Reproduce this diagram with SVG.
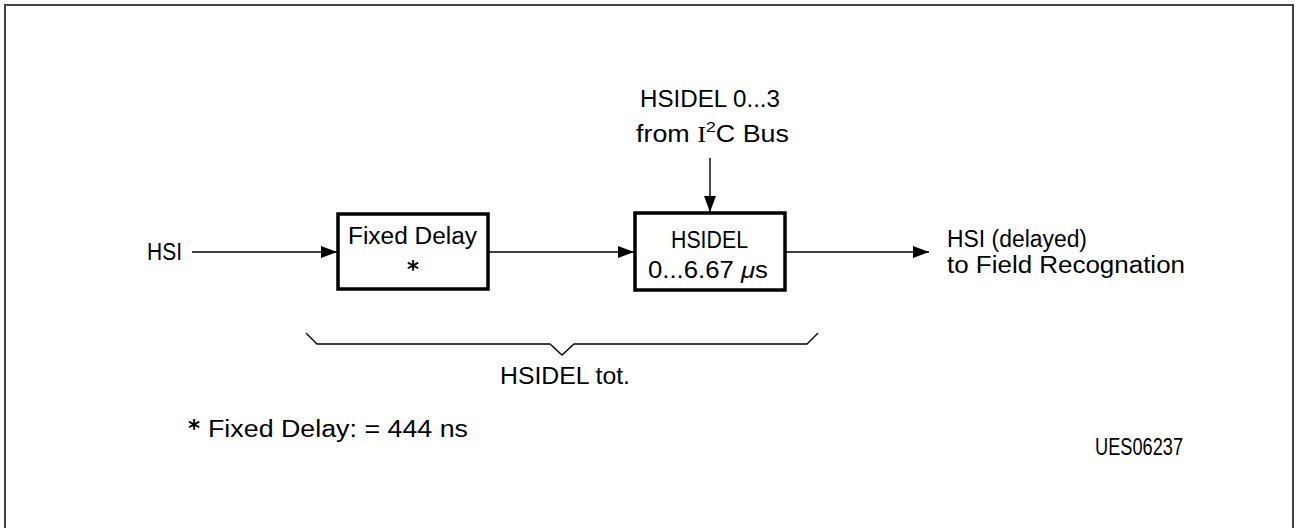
<svg xmlns="http://www.w3.org/2000/svg" width="1297" height="528" viewBox="0 0 1297 528">
<style>
text{font-family:"Liberation Sans",Arial,sans-serif;font-size:23px;fill:#000}
.box{fill:#fff;stroke:#000;stroke-width:3.5}
.wire{fill:none;stroke:#000;stroke-width:1.4}
.frame{fill:none;stroke:#444;stroke-width:2}
.star{font-family:"DejaVu Sans",sans-serif;font-weight:bold}
</style>
<defs>
<marker id="ah" viewBox="0 0 16 12" refX="16" refY="6" markerWidth="16" markerHeight="12" markerUnits="userSpaceOnUse" orient="auto">
<path d="M0,0 L16,6 L0,12 Z" fill="#000"/>
</marker>
</defs>
<rect class="frame" x="5" y="5" width="1288" height="540"/>
<g id="connectors">
<line class="wire" x1="192" y1="252" x2="337" y2="252" marker-end="url(#ah)"/>
<line class="wire" x1="488" y1="252" x2="634" y2="252" marker-end="url(#ah)"/>
<line class="wire" x1="785" y1="252" x2="929" y2="252" marker-end="url(#ah)"/>
<line class="wire" x1="710" y1="158" x2="710" y2="212" marker-end="url(#ah)"/>
</g>
<g id="hsi-in"><text x="147" y="260" textLength="35" lengthAdjust="spacingAndGlyphs">HSI</text></g>
<g id="fixed-delay">
<rect class="box" x="338" y="214" width="150" height="75"/>
<text x="348" y="244" textLength="129" lengthAdjust="spacingAndGlyphs">Fixed Delay</text>
<text class="star" x="413" y="277" text-anchor="middle" font-size="20">*</text>
</g>
<g id="hsidel">
<rect class="box" x="635" y="213" width="150" height="77"/>
<text x="671" y="248" font-size="24" textLength="77" lengthAdjust="spacingAndGlyphs">HSIDEL</text>
<text x="648" y="278" textLength="120" lengthAdjust="spacingAndGlyphs">0...6.67 <tspan font-style="italic">μ</tspan>s</text>
</g>
<g id="i2c-label">
<text x="640" y="107" textLength="140" lengthAdjust="spacingAndGlyphs">HSIDEL  0...3</text>
<text x="636" y="142" textLength="153" lengthAdjust="spacingAndGlyphs">from  <tspan font-family="Liberation Serif">I</tspan><tspan font-size="15" dy="-10">2</tspan><tspan dy="10">C Bus</tspan></text>
</g>
<g id="hsi-out">
<text x="947" y="247" textLength="140" lengthAdjust="spacingAndGlyphs">HSI  (delayed)</text>
<text x="947" y="273" textLength="238" lengthAdjust="spacingAndGlyphs">to  Field  Recognation</text>
</g>
<g id="brace">
<path class="wire" stroke-width="2" d="M306,333 L317,344 L550,344 L562,355 L574,344 L807,344 L818,333"/>
<text x="500" y="384" textLength="130" lengthAdjust="spacingAndGlyphs">HSIDEL  tot.</text>
</g>
<g id="footnote"><text class="star" x="194" y="436" text-anchor="middle" font-size="20">*</text><text x="208" y="437" textLength="260" lengthAdjust="spacingAndGlyphs">Fixed  Delay:  = 444 ns</text></g>
<g id="code"><text x="1095" y="455" font-size="20" textLength="88" lengthAdjust="spacingAndGlyphs">UES06237</text></g>
</svg>
